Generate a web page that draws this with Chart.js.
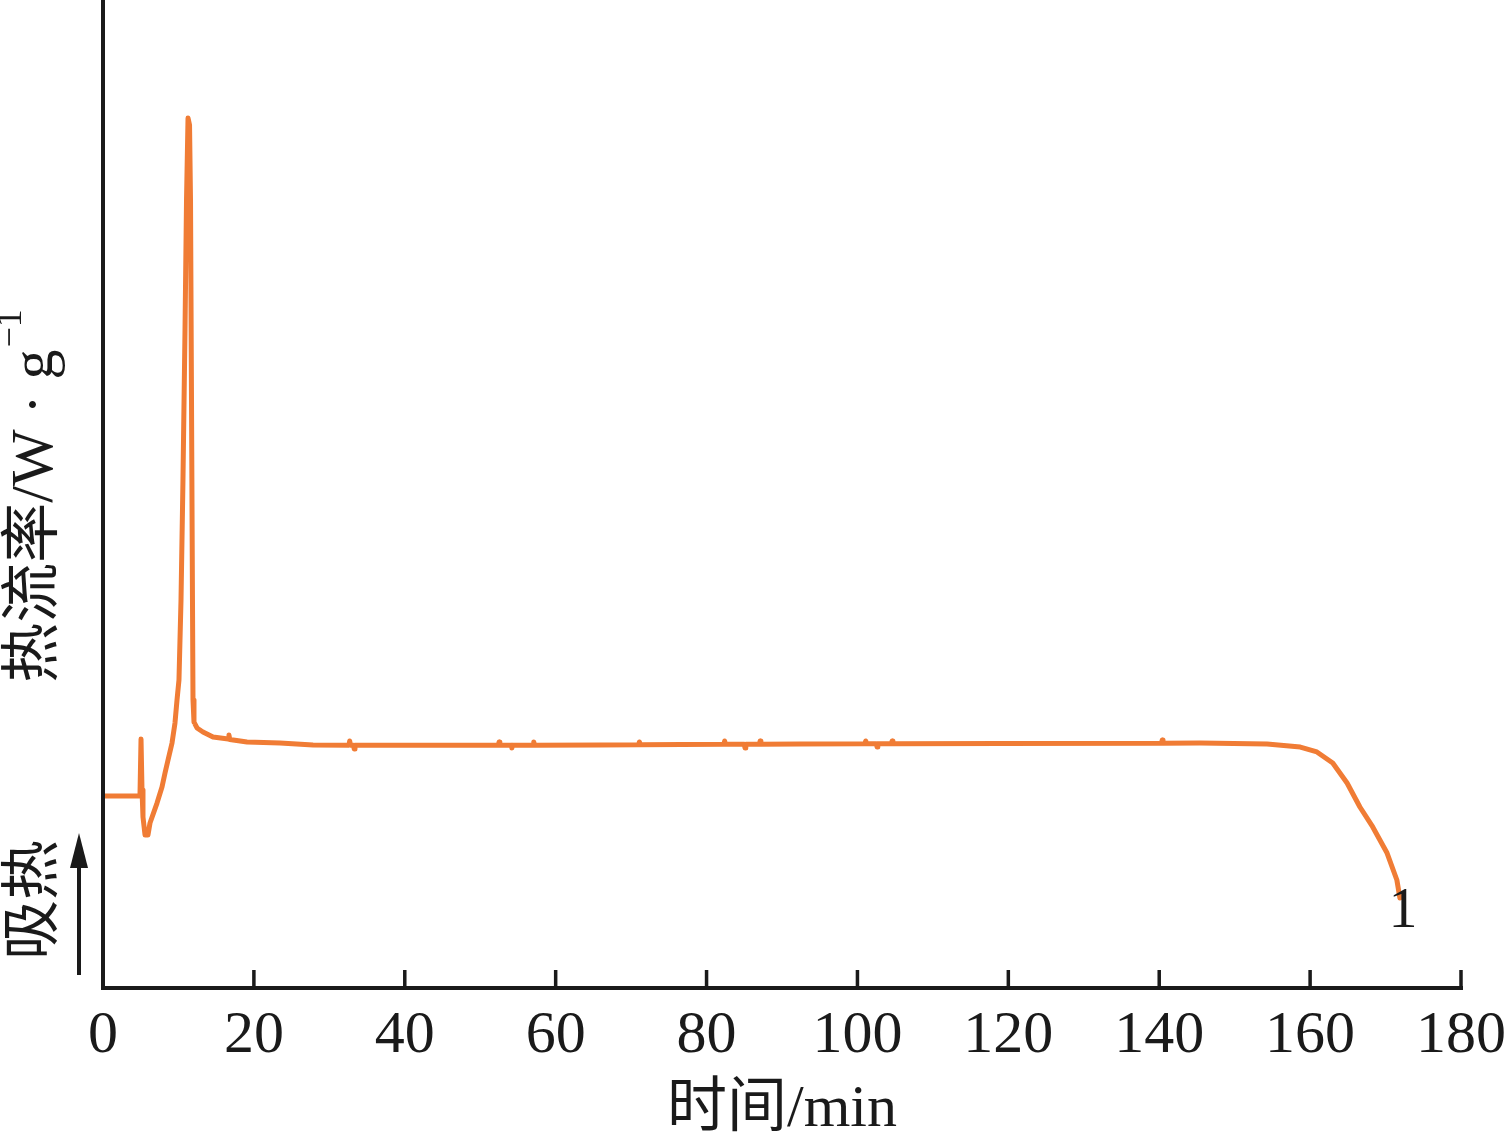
<!DOCTYPE html>
<html>
<head>
<meta charset="utf-8">
<script src="https://cdn.jsdelivr.net/npm/chart.js@4.4.0/dist/chart.umd.min.js"></script>
<style>
html,body{margin:0;padding:0;background:#fff;}
canvas{display:block;}
</style>
</head>
<body>
<canvas id="c" width="1508" height="1140"></canvas>
<script>
// time (min)
const times = [0, 4.90, 5.04, 5.17, 5.30, 5.57, 5.96, 6.23, 7.16, 7.82, 8.22, 8.62, 9.15, 9.54, 9.81, 10.07,
  10.34, 10.60, 10.87, 11.07, 11.27, 11.47, 11.60, 11.73, 11.86, 11.93, 12.06, 12.46, 13.25, 14.58,
  16.6, 16.7, 16.8, 19.09, 23.46, 27.84, 32.6, 32.7, 32.8, 33.2, 33.3, 33.4, 39.37,
  52.4, 52.5, 52.6, 54.1, 54.2, 54.3, 57.0, 57.1, 57.2, 65.88, 71.0, 71.1, 71.2,
  82.3, 82.4, 82.5, 85.0, 85.1, 85.2, 87.0, 87.1, 87.2, 92.39, 101.0, 101.1, 101.2, 102.5, 102.6, 102.7, 104.5, 104.6, 104.7,
  118.9, 140.3, 140.4, 140.5, 145.4, 154.3, 158.7, 160.9, 163.0, 164.9, 166.6, 168.3, 170.2, 171.5, 171.9];
// heat flow (arbitrary units, endothermic up)
const heatFlow = [1.943, 1.943, 2.520, 2.004, 1.731, 1.549, 1.549, 1.670, 1.872, 2.034, 2.176, 2.308, 2.480, 2.682, 2.915, 3.117,
  3.927, 5.142, 6.660, 7.976, 8.806, 8.735, 7.976, 5.951, 3.927, 2.915, 2.692, 2.632, 2.591, 2.540,
  2.520, 2.56, 2.515, 2.490, 2.480, 2.460, 2.458, 2.50, 2.458, 2.457, 2.42, 2.457, 2.456,
  2.458, 2.49, 2.458, 2.458, 2.43, 2.458, 2.458, 2.49, 2.458, 2.460, 2.462, 2.49, 2.462,
  2.466, 2.50, 2.466, 2.466, 2.43, 2.466, 2.467, 2.50, 2.467, 2.470, 2.472, 2.50, 2.472, 2.472, 2.44, 2.472, 2.473, 2.50, 2.473,
  2.475, 2.478, 2.51, 2.478, 2.480, 2.470, 2.439, 2.389, 2.277, 2.075, 1.832, 1.630, 1.366, 1.093, 0.911];
const xTicks = [0, 20, 40, 60, 80, 100, 120, 140, 160, 180];
const xTitle = '时间/min';
const yTitle = '热流率/W · g';
const yTitleSup = '−1';
const endoLabel = '吸热';
const curveLabel = '1';

const points = times.map((t, i) => ({x: t, y: heatFlow[i]}));
const ink = '#1a1a1a';
const serif = '"Liberation Serif", "Noto Sans CJK SC", serif';

const decor = {
  id: 'decor',
  afterDraw(chart) {
    const ctx = chart.ctx;
    const xs = chart.scales.x, ys = chart.scales.y;
    const L = xs.left, R = xs.right, B = ys.bottom, T = ys.top;
    ctx.save();
    ctx.strokeStyle = ink;
    ctx.lineWidth = 4;
    ctx.lineCap = 'butt';
    ctx.beginPath();
    ctx.moveTo(L, T); ctx.lineTo(L, B + 2);
    ctx.moveTo(L - 2, B); ctx.lineTo(R + 2, B);
    ctx.stroke();
    ctx.lineWidth = 3.5;
    ctx.beginPath();
    xTicks.forEach(v => {
      if (v === 0) return;
      const px = xs.getPixelForValue(v);
      ctx.moveTo(px, B); ctx.lineTo(px, B - 18);
    });
    ctx.stroke();
    ctx.fillStyle = ink;
    ctx.font = '60px ' + serif;
    ctx.textAlign = 'center';
    ctx.textBaseline = 'middle';
    xTicks.forEach(v => {
      ctx.fillText(String(v), xs.getPixelForValue(v), B + 48);
    });
    ctx.font = '60px ' + serif;
    ctx.fillText(xTitle, 782, 1110);
    // curve label
    ctx.font = '58px ' + serif;
    ctx.fillText(curveLabel, xs.getPixelForValue(172.3), 912);
    // y title (rotated)
    ctx.save();
    ctx.translate(36, 496);
    ctx.rotate(-Math.PI / 2);
    ctx.font = '60px ' + serif;
    const w1 = ctx.measureText(yTitle).width;
    ctx.font = '36px ' + serif;
    const w2 = ctx.measureText(yTitleSup).width;
    const tot = w1 + w2 + 2;
    ctx.textAlign = 'left';
    ctx.font = '60px ' + serif;
    ctx.fillText(yTitle, -tot / 2, 0);
    ctx.font = '36px ' + serif;
    ctx.fillText(yTitleSup, -tot / 2 + w1 + 2, -24);
    ctx.restore();
    // endothermic label
    ctx.save();
    ctx.translate(36, 900);
    ctx.rotate(-Math.PI / 2);
    ctx.font = '60px ' + serif;
    ctx.textAlign = 'center';
    ctx.fillText(endoLabel, 0, 0);
    ctx.restore();
    // arrow
    ctx.lineWidth = 4;
    ctx.beginPath();
    ctx.moveTo(79, 975); ctx.lineTo(79, 862);
    ctx.stroke();
    ctx.beginPath();
    ctx.moveTo(79, 833); ctx.lineTo(88, 868); ctx.lineTo(70, 868); ctx.closePath();
    ctx.fill();
    ctx.restore();
  }
};

new Chart(document.getElementById('c'), {
  type: 'line',
  data: {
    datasets: [{
      data: points,
      borderColor: '#F07C35',
      borderWidth: 5,
      borderJoinStyle: 'round',
      borderCapStyle: 'round',
      pointRadius: 0,
      tension: 0,
      fill: false
    }]
  },
  options: {
    responsive: false,
    animation: false,
    devicePixelRatio: 1,
    layout: {padding: {left: 103, right: 47, top: 0, bottom: 152}},
    plugins: {legend: {display: false}, tooltip: {enabled: false}},
    scales: {
      x: {type: 'linear', min: 0, max: 180, display: false},
      y: {type: 'linear', min: 0, max: 10, display: false}
    }
  },
  plugins: [decor]
});
</script>
</body>
</html>
